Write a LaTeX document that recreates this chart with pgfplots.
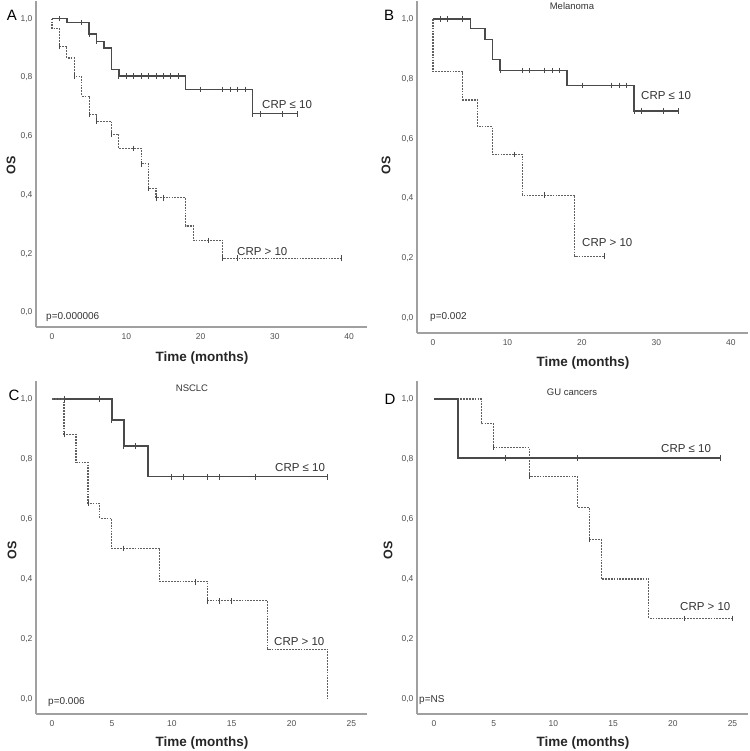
\documentclass[border=0pt]{standalone}
\usepackage{fontspec}
\setmainfont{Liberation Sans}
\usepackage{pgfplots}
\pgfplotsset{compat=1.18}

\definecolor{curve}{HTML}{4A4A4A}
\definecolor{curvedash}{HTML}{606060}
\definecolor{axisgray}{HTML}{A0A0A0}
\definecolor{ticktext}{HTML}{505050}
\definecolor{labtext}{HTML}{333333}

\pgfplotsset{
  km/.style={
    scale only axis, width=331pt,
    axis lines*=left,
    axis line style={-, draw=axisgray, line width=1.3pt},
    ymin=-0.05, ymax=1.06,
    ytick={0,0.2,0.4,0.6,0.8,1},
    major tick length=0pt,
    tick label style={font=\fontsize{8.5}{10}\selectfont, text=ticktext},
    /pgf/number format/assume math mode=true,
    yticklabel style={/pgf/number format/.cd, fixed, fixed zerofill, precision=1, use comma},
    xticklabel style={yshift=-3pt},
  },
  lo/.style={const plot, draw=curve, line width=1.4pt, no marks},
  hi/.style={const plot, draw=curvedash, line width=1.1pt, dash pattern=on 1.8pt off 1.1pt, no marks},
  cens/.style={only marks, mark=|, mark size=2.8pt, mark options={draw=curve, line width=0.9pt, solid}},
}

\begin{document}
\begin{tikzpicture}[x=1pt, y=1pt]
\path[use as bounding box] (0,0) rectangle (749,-751);

% ---------- A: all patients
\begin{axis}[km, at={(36pt,-327pt)}, anchor=south west, height=326pt,
  xmin=-2.15, xmax=42.4, xtick={0,10,20,30,40}]
  \addplot[lo] coordinates {(0,1) (2,0.987) (5,0.947) (6,0.923) (7,0.900) (8,0.827) (9,0.804) (18,0.759) (27,0.676) (33,0.676)};
  \addplot[cens] coordinates {(1,1) (4,0.987) (5,0.947) (6,0.923)
    (9,0.804) (10,0.804) (11,0.804) (12,0.804) (13,0.804) (14,0.804) (15,0.804) (16,0.804) (17,0.804)
    (20,0.759) (23,0.759) (24,0.759) (25,0.759) (26,0.759)
    (27,0.676) (28,0.676) (31,0.676) (33,0.676)};
  \addplot[hi] coordinates {(0,1) (0,0.966) (1,0.906) (2,0.866) (3,0.804) (4,0.736) (5,0.673) (6,0.651) (8,0.605) (9,0.558) (12,0.506) (13,0.422) (14,0.390) (18,0.294) (19,0.245) (23,0.184) (39,0.184)};
  \addplot[cens] coordinates {(1,0.906) (3,0.804) (5,0.673) (6,0.651) (8,0.605) (11,0.558) (12,0.506) (13,0.422) (14,0.390) (15,0.390) (21,0.245) (23,0.184) (25,0.184) (39,0.184)};
\end{axis}

% ---------- B: melanoma
\begin{axis}[km, at={(417pt,-333pt)}, anchor=south west, height=332pt,
  xmin=-2.15, xmax=42.3, xtick={0,10,20,30,40}]
  \addplot[lo] coordinates {(0,1) (5,0.968) (7,0.932) (8,0.865) (9,0.828) (18,0.778) (27,0.692) (33,0.692)};
  \addplot[cens] coordinates {(1,1) (2,1) (4,1) (9,0.828) (12,0.828) (13,0.828) (15,0.828) (16,0.828) (17,0.828)
    (20,0.778) (24,0.778) (25,0.778) (26,0.778) (27,0.692) (28,0.692) (31,0.692) (33,0.692)};
  \addplot[hi] coordinates {(0,1) (0,0.823) (4,0.729) (6,0.639) (8,0.547) (12,0.411) (19,0.207) (23,0.207)};
  \addplot[cens] coordinates {(11,0.547) (15,0.411) (23,0.207)};
\end{axis}

% ---------- C: NSCLC
\begin{axis}[km, at={(36pt,-714pt)}, anchor=south west, height=333pt,
  xmin=-1.34, xmax=26.3, xtick={0,5,10,15,20,25}]
  \addplot[lo] coordinates {(0,1) (5,0.930) (6,0.844) (8,0.741) (23,0.741)};
  \addplot[cens] coordinates {(1,1) (4,1) (5,0.930) (6,0.844) (7,0.844) (10,0.741) (11,0.741) (13,0.741) (14,0.741) (17,0.741) (23,0.741)};
  \addplot[hi] coordinates {(0,1) (1,0.882) (2,0.789) (3,0.652) (4,0.602) (5,0.502) (9,0.391) (13,0.327) (18,0.166) (23,0)};
  \addplot[cens] coordinates {(1,0.882) (3,0.652) (6,0.502) (12,0.391) (13,0.327) (14,0.327) (15,0.327)};
\end{axis}

% ---------- D: GU cancers
\begin{axis}[km, at={(417pt,-714pt)}, anchor=south west, height=333pt,
  xmin=-1.43, xmax=26.3, xtick={0,5,10,15,20,25}]
  \addplot[hi] coordinates {(0,1) (4,0.917) (5,0.838) (8,0.743) (12,0.639) (13,0.532) (14,0.400) (18,0.269) (25,0.269)};
  \addplot[cens] coordinates {(5,0.838) (8,0.743) (13,0.532) (21,0.269) (25,0.269)};
  \addplot[lo] coordinates {(0,1) (2,0.804) (24,0.804)};
  \addplot[cens] coordinates {(6,0.804) (12,0.804) (24,0.804)};
\end{axis}

% ---------- texts
\begin{scope}[every node/.style={inner sep=0pt}]
  \node[font=\fontsize{15}{18}\selectfont] at (12,-15) {A};
  \node[font=\fontsize{15}{18}\selectfont] at (389,-15) {B};
  \node[font=\fontsize{15}{18}\selectfont] at (14,-395) {C};
  \node[font=\fontsize{15}{18}\selectfont] at (390,-399) {D};

  \foreach \x/\y in {11/165, 386/165, 12/550, 388/550}
    \node[font=\bfseries\fontsize{12.5}{14}\selectfont, rotate=90, text=black!85] at (\x,-\y) {OS};
  \foreach \x/\y in {202/358, 583/363, 202/743, 583/743}
    \node[font=\bfseries\fontsize{13.5}{16}\selectfont, text=black!85] at (\x,-\y) {Time (months)};

  \begin{scope}[every node/.append style={font=\fontsize{9.5}{11}\selectfont, text=labtext}]
    \node at (572,-6) {Melanoma};
    \node at (192,-388) {NSCLC};
    \node at (572,-392) {GU cancers};
  \end{scope}

  \begin{scope}[every node/.append style={anchor=west, font=\fontsize{11.5}{13}\selectfont, text=labtext}]
    \node at (262,-105) {CRP ≤ 10};
    \node at (237,-252) {CRP > 10};
    \node at (641,-96) {CRP ≤ 10};
    \node at (582,-243) {CRP > 10};
    \node at (275,-468) {CRP ≤ 10};
    \node at (274,-642) {CRP > 10};
    \node at (661,-449) {CRP ≤ 10};
    \node at (680,-607) {CRP > 10};
  \end{scope}

  \begin{scope}[every node/.append style={anchor=west, font=\fontsize{10}{12}\selectfont, text=labtext}]
    \node at (46,-317) {p=0.000006};
    \node at (430,-317) {p=0.002};
    \node at (48,-702) {p=0.006};
    \node at (419,-700) {p=NS};
  \end{scope}
\end{scope}
\end{tikzpicture}
\end{document}
